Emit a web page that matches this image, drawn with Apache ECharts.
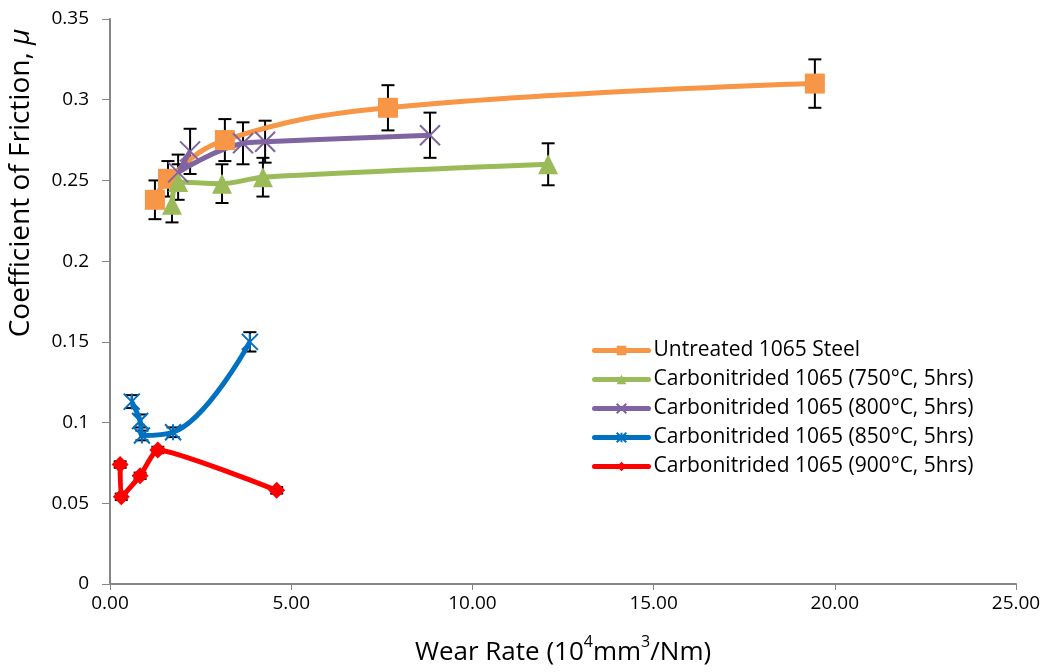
<!DOCTYPE html>
<html>
<head>
<meta charset="utf-8">
<script src="https://cdn.jsdelivr.net/npm/echarts@6/dist/echarts.min.js"></script>
<style>
  html, body { margin: 0; padding: 0; background: #fff; }
  #chart { width: 1048px; height: 672px; }
</style>
</head>
<body>
<div id="chart"></div>
<script>
// data
var seriesNames = [
  'Untreated 1065 Steel',
  'Carbonitrided 1065 (750°C, 5hrs)',
  'Carbonitrided 1065 (800°C, 5hrs)',
  'Carbonitrided 1065 (850°C, 5hrs)',
  'Carbonitrided 1065 (900°C, 5hrs)'
];
var untreatedX = [1.24, 1.60, 3.17, 7.67, 19.45];
var untreatedY = [0.238, 0.251, 0.275, 0.295, 0.310];
var untreatedErr = [0.012, 0.011, 0.013, 0.014, 0.015];

var c750X = [1.71, 1.88, 3.09, 4.22, 12.09];
var c750Y = [0.235, 0.249, 0.248, 0.252, 0.260];
var c750Err = [0.011, 0.011, 0.012, 0.012, 0.013];

var c800X = [2.21, 1.88, 3.67, 4.28, 8.83];
var c800Y = [0.268, 0.255, 0.273, 0.274, 0.278];
var c800Err = [0.014, 0.011, 0.013, 0.013, 0.014];

var c850X = [0.60, 0.83, 0.88, 1.74, 3.86];
var c850Y = [0.113, 0.101, 0.092, 0.094, 0.150];
var c850Err = [0.004, 0.004, 0.003, 0.003, 0.006];

var c900X = [0.28, 0.31, 0.83, 1.32, 4.60];
var c900Y = [0.074, 0.054, 0.067, 0.083, 0.058];
var c900Err = [0.002, 0.002, 0.002, 0.002, 0.002];

var colors = ['#F79646', '#9BBB59', '#8064A2', '#0070C0', '#FF0000'];

function pts(xs, ys) {
  return xs.map(function (x, i) { return [x, ys[i]]; });
}
function errPts(xs, ys, es) {
  return xs.map(function (x, i) { return [x, ys[i], es[i]]; });
}

var chart = echarts.init(document.getElementById('chart'));

function renderErr(params, api) {
  var x = api.value(0), y = api.value(1), e = api.value(2);
  var top = api.coord([x, y + e]);
  var bot = api.coord([x, y - e]);
  var cap = 6.5;
  var st = { stroke: '#000', lineWidth: 2 };
  return {
    type: 'group',
    children: [
      { type: 'line', shape: { x1: top[0], y1: top[1], x2: bot[0], y2: bot[1] }, style: st },
      { type: 'line', shape: { x1: top[0] - cap, y1: top[1], x2: top[0] + cap, y2: top[1] }, style: st },
      { type: 'line', shape: { x1: bot[0] - cap, y1: bot[1], x2: bot[0] + cap, y2: bot[1] }, style: st }
    ]
  };
}

var allX = [untreatedX, c750X, c800X, c850X, c900X];
var allY = [untreatedY, c750Y, c800Y, c850Y, c900Y];
var allE = [untreatedErr, c750Err, c800Err, c850Err, c900Err];
var symbols = [
  'rect',
  'triangle',
  'path://M0,0L10,10M10,0L0,10',
  'path://M0,0L10,10M10,0L0,10M5,0L5,10',
  'diamond'
];
var symSizes = [20, 20, 20, 16, 17];
var smoothness = [0.4, 0.3, 0.4, 0.4, 0.15];

var series = [];
for (var i = 0; i < 5; i++) {
  series.push({
    type: 'custom',
    renderItem: renderErr,
    data: errPts(allX[i], allY[i], allE[i]),
    encode: { x: 0, y: 1 },
    z: 1,
    silent: true
  });
}
for (var j = 0; j < 5; j++) {
  var stroked = (j === 2 || j === 3);
  series.push({
    name: seriesNames[j],
    type: 'line',
    data: pts(allX[j], allY[j]),
    smooth: smoothness[j],
    symbol: symbols[j],
    symbolSize: symSizes[j],
    showAllSymbol: true,
    lineStyle: { color: colors[j], width: 5 },
    itemStyle: stroked ?
      { color: colors[j], borderColor: colors[j], borderWidth: 2 } :
      { color: colors[j], borderWidth: 0 },
    z: 2
  });
}

var option = {
  animation: false,
  textStyle: { fontFamily: 'Open Sans' },
  grid: { left: 110, right: 32, top: 19, bottom: 88 },
  graphic: [{
    type: 'text',
    x: 21,
    y: 183,
    rotation: Math.PI / 2,
    style: {
      text: '{n|Coefficient of Friction, }{i|μ}',
      align: 'center',
      verticalAlign: 'middle',
      rich: {
        n: { fontSize: 28, fill: '#000', fontFamily: 'Open Sans' },
        i: { fontSize: 28, fill: '#000', fontFamily: 'Open Sans', fontStyle: 'italic' }
      }
    }
  }],
  legend: {
    data: seriesNames,
    orient: 'vertical',
    left: 587,
    top: 331,
    itemWidth: 54,
    itemHeight: 12,
    itemGap: 0,
    lineStyle: { width: 5, cap: 'round' },
    textStyle: { fontSize: 21, lineHeight: 29, color: '#000', fontFamily: 'Open Sans' }
  },
  xAxis: {
    type: 'value',
    min: 0,
    max: 25,
    interval: 5,
    name: '{n|Wear Rate (10}{s|4}{n|mm}{s|3}{n|/Nm)}',
    nameLocation: 'middle',
    nameGap: 50,
    nameTextStyle: {
      rich: {
        n: { fontSize: 26, color: '#000', fontFamily: 'Open Sans', lineHeight: 32, verticalAlign: 'bottom' },
        s: { fontSize: 16, color: '#000', fontFamily: 'Open Sans', lineHeight: 32, verticalAlign: 'top', padding: [0, 0, 10, 0] }
      }
    },
    axisLine: { lineStyle: { color: '#868686', width: 2 } },
    axisTick: { inside: false, length: 6, lineStyle: { color: '#868686' } },
    axisLabel: { fontSize: 19, color: '#000', margin: 10, formatter: function (v) { return v.toFixed(2); } },
    splitLine: { show: false }
  },
  yAxis: {
    type: 'value',
    min: 0,
    max: 0.35,
    interval: 0.05,
    axisLine: { show: true, lineStyle: { color: '#868686', width: 2 } },
    axisTick: { show: true, inside: false, length: 8, lineStyle: { color: '#868686' } },
    axisLabel: { fontSize: 19, color: '#000', margin: 21, formatter: function (v) { return String(parseFloat(v.toFixed(2))); } },
    splitLine: { show: false }
  },
  series: series
};

chart.setOption(option);
</script>
</body>
</html>
